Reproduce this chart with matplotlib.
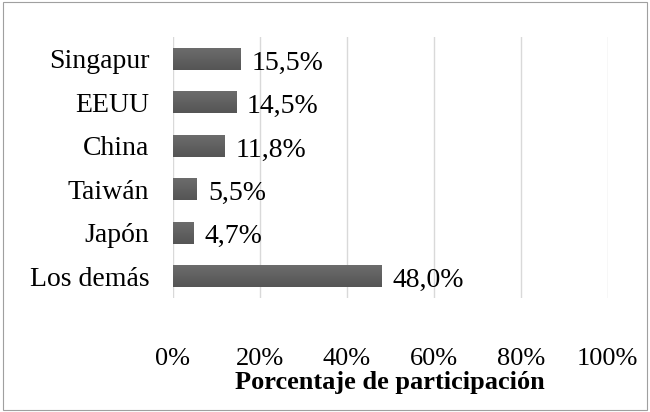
import numpy as np
import matplotlib.pyplot as plt
from matplotlib.colors import LinearSegmentedColormap
from matplotlib.patches import Rectangle

# data (top to bottom)
countries = ["Singapur", "EEUU", "China", "Taiwán", "Japón", "Los demás"]
shares = [15.5, 14.5, 11.8, 5.5, 4.7, 48.0]
xticks = [0, 20, 40, 60, 80, 100]

plt.rcParams["font.family"] = ["Liberation Serif", "DejaVu Serif"]

fig = plt.figure(figsize=(6.5, 4.12), dpi=100)
ax = fig.add_axes([0.266, 0.277, 0.669, 0.633])

ypos = list(range(len(countries)))[::-1]
bars = ax.barh(ypos, shares, height=0.5, color="#616161", zorder=3)

# soft vertical gradient like the Excel bars
grad = LinearSegmentedColormap.from_list("g", ["#555555", "#6c6c6c"])
ramp = np.linspace(0, 1, 64).reshape(-1, 1)
for b in bars:
    x0, y0 = b.get_x(), b.get_y()
    im = ax.imshow(ramp, cmap=grad, aspect="auto", origin="lower",
                   extent=(x0, x0 + b.get_width(), y0, y0 + b.get_height()), zorder=4)
    im.set_clip_path(b)

for y, v in zip(ypos, shares):
    ax.annotate(f"{v:.1f}%".replace(".", ","), (v, y), xytext=(8, -3),
                textcoords="offset points", va="center", ha="left", fontsize=20)

ax.set_xlim(0, 100)
ax.set_ylim(-0.5, len(countries) - 0.5)
ax.set_xticks(xticks)
ax.set_xticklabels([f"{t}%" for t in xticks], fontsize=19)
ax.set_yticks(ypos)
ax.set_yticklabels(countries, fontsize=20)
ax.tick_params(axis="x", length=0, pad=36)
ax.tick_params(axis="y", length=0, pad=17)
ax.grid(axis="x", color="#d9d9d9", linewidth=1, zorder=0)
for s in ax.spines.values():
    s.set_visible(False)

ax.set_xlabel("Porcentaje de participación", fontsize=19, fontweight="bold", labelpad=0.5)

# outer chart border
fig.patches.append(Rectangle((0.004, 0.006), 0.992, 0.988, transform=fig.transFigure,
                             fill=False, edgecolor="#a0a0a0", linewidth=0.8))

plt.savefig("out.png", dpi=100)
